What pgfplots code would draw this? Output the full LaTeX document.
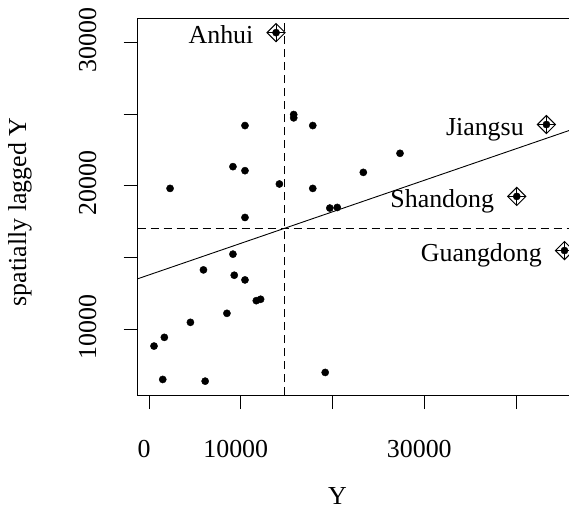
\documentclass[border=0pt]{standalone}
\usepackage{fontspec}
\setmainfont{Liberation Serif}
\usepackage{pgfplots}
\pgfplotsset{compat=1.18}
\usepackage{pgfplotstable}

\pgfplotstableread{
x y
13847 30678
15770 24965
15770 24733
10459 24196
17847 24196
43311 24266
27355 22259
9148 21329
10459 21049
23355 20930
2295 19811
14208 20119
17847 19811
40076 19252
19705 18440
20514 18483
10459 17783
45279 15476
9148 15224
5934 14126
9290 13755
10459 13427
11694 11979
12164 12077
8492 11096
4514 10468
1672 9420
546 8811
1497 6483
6120 6364
19202 6972
}\allpts

\pgfplotstableread{
x y label
13847 30678 Anhui
43311 24266 Jiangsu
40076 19252 Shandong
45279 15476 Guangdong
}\infl

\begin{document}
\begin{tikzpicture}[font=\fontsize{26}{30}\selectfont]
\begin{axis}[
  at={(0,0)}, anchor=south west,
  scale only axis,
  width=443.3bp, height=376.4bp,
  xmin=-1243, xmax=47068,
  ymin=5391, ymax=31651,
  scaled ticks=false,
  axis line style={line width=1bp},
  tick style={line width=1bp, black},
  tick align=outside,
  major tick length=14bp,
  xtick pos=bottom, ytick pos=left,
  xtick={0,10000,20000,30000,40000},
  xticklabels={0,10000,,30000,},
  ytick={10000,15000,20000,25000,30000},
  yticklabels={10000,,20000,,30000},
  tick label style={font=\fontsize{26}{30}\selectfont, inner sep=0pt},
  xticklabel style={anchor=north, yshift=-31bp, xshift=-5bp},
  yticklabel style={rotate=90, anchor=south, xshift=2.4bp, yshift=27bp},
  xlabel={Y},
  ylabel={spatially lagged Y},
  xlabel style={at={(axis description cs:0.451,-0.291)}, anchor=base, inner sep=0pt},
  ylabel style={at={(axis description cs:-0.2517,0.4864)}, anchor=base, rotate=0, inner sep=0pt},
  clip=true,
]
% mean lines
\addplot[black, line width=0.9bp, dash pattern=on 8bp off 5bp] coordinates {(14788,5391) (14788,31651)};
\addplot[black, line width=0.9bp, dash pattern=on 8bp off 5bp] coordinates {(-1243,17031) (47068,17031)};
% regression line
\addplot[black, line width=0.9bp] coordinates {(-1243,13503) (47068,24133)};
% all points
\addplot[only marks, mark=*, mark size=3.6bp, black] table[x=x,y=y] {\allpts};
% influential points
\addplot[only marks, mark=square, mark size=6.4bp, black, mark options={rotate=45, line width=1bp}] table[x=x,y=y] {\infl};
\addplot[only marks, mark=+, mark size=9bp, black, mark options={line width=1bp}] table[x=x,y=y] {\infl};
\addplot[draw=none, mark=none, nodes near coords, point meta=explicit symbolic,
  every node near coord/.append style={anchor=base east, xshift=-22.5bp, yshift=-11bp, inner sep=0pt, font=\fontsize{26}{30}\selectfont, black}]
  table[x=x,y=y,meta=label] {\infl};
\end{axis}
\pgfresetboundingbox
\path[use as bounding box] (-137.6bp,-114.9bp) rectangle (431.4bp,395.1bp);
\end{tikzpicture}
\end{document}
